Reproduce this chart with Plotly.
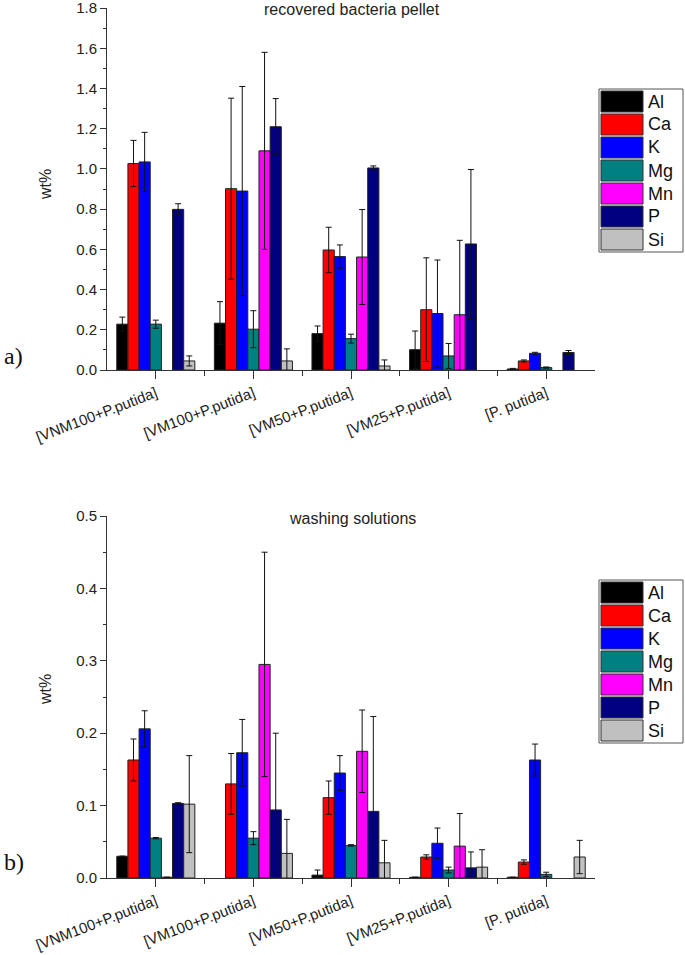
import plotly.graph_objects as go

categories = ["[VNM100+P.putida]", "[VM100+P.putida]", "[VM50+P.putida]",
              "[VM25+P.putida]", "[P. putida]"]
elements = ["Al", "Ca", "K", "Mg", "Mn", "P", "Si"]
colors = ["#000000", "#FF0000", "#0000FF", "#008080", "#FF00FF", "#000080", "#C0C0C0"]

# a) recovered bacteria pellet, wt%  (None = no bar)
pellet = {
    "Al": [0.228, 0.233, 0.181, 0.101, 0.005],
    "Ca": [1.027, 0.902, 0.597, 0.300, 0.045],
    "K":  [1.035, 0.890, 0.564, 0.281, 0.083],
    "Mg": [0.228, 0.203, 0.156, 0.070, 0.012],
    "Mn": [None, 1.090, 0.562, 0.275, None],
    "P":  [0.799, 1.210, 1.005, 0.627, 0.087],
    "Si": [0.045, 0.045, 0.020, None, None],
}
pellet_err = {
    "Al": [0.035, 0.107, 0.038, 0.093, 0.003],
    "Ca": [0.115, 0.450, 0.113, 0.258, 0.005],
    "K":  [0.147, 0.520, 0.058, 0.266, 0.005],
    "Mg": [0.020, 0.092, 0.022, 0.062, 0.003],
    "Mn": [0, 0.490, 0.236, 0.370, 0],
    "P":  [0.028, 0.140, 0.010, 0.370, 0.010],
    "Si": [0.025, 0.060, 0.030, 0, 0],
}

# b) washing solutions, wt%
washing = {
    "Al": [0.030, None, 0.004, 0.001, 0.001],
    "Ca": [0.163, 0.130, 0.111, 0.029, 0.022],
    "K":  [0.206, 0.173, 0.145, 0.048, 0.163],
    "Mg": [0.055, 0.055, 0.045, 0.011, 0.005],
    "Mn": [0.001, 0.295, 0.175, 0.044, None],
    "P":  [0.103, 0.094, 0.092, 0.014, None],
    "Si": [0.102, 0.034, 0.021, 0.015, 0.029],
}
washing_err = {
    "Al": [0, 0, 0.007, 0, 0],
    "Ca": [0.029, 0.042, 0.023, 0.003, 0.003],
    "K":  [0.025, 0.046, 0.024, 0.021, 0.022],
    "Mg": [0.001, 0.009, 0.001, 0.004, 0.003],
    "Mn": [0, 0.155, 0.057, 0.045, 0],
    "P":  [0.001, 0.106, 0.131, 0.022, 0],
    "Si": [0.067, 0.047, 0.031, 0.024, 0.023],
}

pellet_ticks = [0.0, 0.2, 0.4, 0.6, 0.8, 1.0, 1.2, 1.4, 1.6, 1.8]
washing_ticks = [0.0, 0.1, 0.2, 0.3, 0.4, 0.5]

W, H = 685, 955
FONT = "Liberation Sans"
xpos = list(range(1, len(categories) + 1))


def px_x(x):
    return x / W


def px_y(y):
    return 1 - y / H


fig = go.Figure()

for data, err, xa, ya in [(pellet, pellet_err, "x", "y"), (washing, washing_err, "x2", "y2")]:
    for el, col in zip(elements, colors):
        fig.add_trace(go.Bar(
            x=xpos, y=data[el], name=el, xaxis=xa, yaxis=ya,
            marker=dict(color=col, line=dict(color="#222", width=1)),
            error_y=dict(type="data", array=err[el], color="#111", thickness=1, width=3),
            showlegend=False,
        ))

xcommon = dict(
    range=[0.5, 5.5], tickvals=xpos, ticktext=categories, tickangle=-21,
    ticks="outside", ticklen=8, tickcolor="#333", showline=True, linecolor="#333",
    linewidth=1, showgrid=False, zeroline=False, automargin=False,
    tickfont=dict(family=FONT, size=15, color="#222"),
    minor=dict(tickmode="array", tickvals=[1.5, 2.5, 3.5, 4.5], ticklen=5,
               tickcolor="#333", ticks="outside"),
)
ycommon = dict(
    ticks="outside", ticklen=6, tickcolor="#333", showline=True, linecolor="#333",
    linewidth=1, showgrid=False, zeroline=False, automargin=False,
    ticklabeloverflow="allow",
    tickformat=".1f", tickfont=dict(family=FONT, size=15, color="#222"),
)

fig.update_layout(
    width=W, height=H, margin=dict(l=0, r=0, t=0, b=0, autoexpand=False),
    paper_bgcolor="white", plot_bgcolor="white",
    barmode="group", bargap=0.2, bargroupgap=0,
    xaxis=dict(domain=[px_x(107), px_x(595)], anchor="y", **xcommon),
    yaxis=dict(domain=[px_y(370), px_y(8)], anchor="x", range=[0, 1.8005],
               tickmode="array", tickvals=pellet_ticks,
               minor=dict(dtick=0.1, ticklen=3, ticks="outside", tickcolor="#333"),
               **ycommon),
    xaxis2=dict(domain=[px_x(107), px_x(595)], anchor="y2", **xcommon),
    yaxis2=dict(domain=[px_y(878), px_y(516)], anchor="x2", range=[0, 0.5],
                tickmode="array", tickvals=washing_ticks,
                minor=dict(dtick=0.05, ticklen=3, ticks="outside", tickcolor="#333"),
                **ycommon),
)

annotations = []
shapes = []
for title, ty, wy, lab, ly, leg_top in [
    ("recovered bacteria pellet", 9, 185, "a)", 356, 89),
    ("washing solutions", 518, 690, "b)", 862, 580),
]:
    annotations.append(dict(text=title, x=px_x(352), y=px_y(ty), xref="paper", yref="paper",
                            showarrow=False, xanchor="center", yanchor="middle",
                            font=dict(family=FONT, size=16, color="#222")))
    annotations.append(dict(text="wt%", x=px_x(45), y=px_y(wy), xref="paper", yref="paper",
                            showarrow=False, textangle=-90, xanchor="center", yanchor="middle",
                            font=dict(family=FONT, size=16, color="#222")))
    annotations.append(dict(text=lab, x=px_x(2), y=px_y(ly), xref="paper", yref="paper",
                            showarrow=False, xanchor="left", yanchor="middle",
                            font=dict(family="Liberation Serif", size=24, color="#111")))
    # legend box with large swatches
    row_h = 23
    shapes.append(dict(type="rect", xref="paper", yref="paper",
                       x0=px_x(599), x1=px_x(683), y0=px_y(leg_top + 7 * row_h + 2), y1=px_y(leg_top),
                       line=dict(color="#555", width=1), fillcolor="white"))
    for i, (el, col) in enumerate(zip(elements, colors)):
        top = leg_top + 2 + i * row_h
        shapes.append(dict(type="rect", xref="paper", yref="paper",
                           x0=px_x(601), x1=px_x(643), y0=px_y(top + row_h - 2), y1=px_y(top),
                           line=dict(color="#333", width=1), fillcolor=col))
        annotations.append(dict(text=el, x=px_x(646), y=px_y(top + (row_h - 2) / 2),
                                xref="paper", yref="paper", showarrow=False,
                                xanchor="left", yanchor="middle",
                                font=dict(family=FONT, size=18, color="#111")))

fig.update_layout(annotations=annotations, shapes=shapes)
fig.write_html("out.html", config={"displayModeBar": False},
               post_script="document.body.style.margin='0';document.body.style.overflow='hidden';")
